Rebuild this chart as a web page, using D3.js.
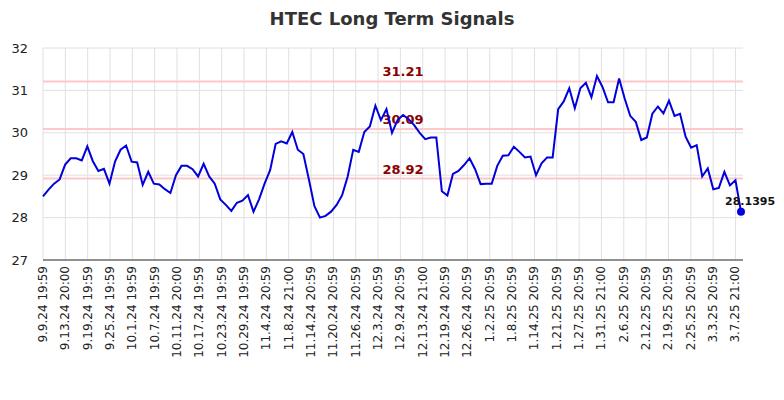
<!DOCTYPE html>
<html><head><meta charset="utf-8">
<script src="https://cdn.jsdelivr.net/npm/d3@7"></script>
<style>body{margin:0;background:#fff}svg{font-family:"DejaVu Sans",sans-serif}</style>
</head><body><svg id="c" width="784" height="400"></svg>
<script>
const values=[28.5,28.66,28.8,28.9,29.25,29.4,29.4,29.35,29.68,29.33,29.1,29.15,28.8,29.32,29.6,29.7,29.32,29.3,28.77,29.08,28.8,28.78,28.67,28.58,29.0,29.22,29.22,29.14,28.97,29.27,28.97,28.8,28.43,28.3,28.16,28.35,28.4,28.53,28.14,28.43,28.8,29.12,29.74,29.8,29.75,30.02,29.6,29.5,28.9,28.27,28.0,28.04,28.14,28.3,28.53,28.97,29.6,29.55,30.02,30.15,30.64,30.3,30.56,30.0,30.3,30.42,30.32,30.18,30.0,29.85,29.89,29.89,28.62,28.52,29.03,29.1,29.24,29.4,29.14,28.79,28.8,28.8,29.22,29.46,29.47,29.67,29.55,29.42,29.44,29.0,29.28,29.42,29.42,30.56,30.74,31.05,30.58,31.05,31.18,30.84,31.34,31.08,30.72,30.72,31.28,30.81,30.4,30.26,29.83,29.89,30.45,30.62,30.46,30.76,30.4,30.45,29.91,29.65,29.71,28.97,29.16,28.67,28.7,29.08,28.76,28.88,28.1395];
const tickLabels=["9.9.24 19:59","9.13.24 20:00","9.19.24 19:59","9.25.24 19:59","10.1.24 19:59","10.7.24 19:59","10.11.24 20:00","10.17.24 19:59","10.23.24 19:59","10.29.24 19:59","11.4.24 20:59","11.8.24 21:00","11.14.24 20:59","11.20.24 20:59","11.26.24 20:59","12.3.24 20:59","12.9.24 20:59","12.13.24 21:00","12.19.24 20:59","12.26.24 20:59","1.2.25 20:59","1.8.25 20:59","1.14.25 20:59","1.21.25 20:59","1.27.25 20:59","1.31.25 21:00","2.6.25 20:59","2.12.25 20:59","2.19.25 20:59","2.25.25 20:59","3.3.25 20:59","3.7.25 21:00"];
const levels=[31.21,30.09,28.92];
const yTicks=[27,28,29,30,31,32];
const svg=d3.select("#c");
const L=43,R=743,T=48,B=260;
const x=d3.scaleLinear().domain([0,values.length-1]).range([L,741]);
const y=d3.scaleLinear().domain([27,32]).range([B,T]);
const nT=tickLabels.length;
const tickIdx=tickLabels.map((d,k)=>k*(125/(nT-1)));
svg.append("text").attr("x",392).attr("y",25).attr("text-anchor","middle").attr("font-size",18).attr("font-weight","bold").attr("fill","#333").text("HTEC Long Term Signals");
const g=svg.append("g");
g.selectAll(".vg").data(tickIdx).join("line").attr("x1",d=>x(d)).attr("x2",d=>x(d)).attr("y1",T).attr("y2",B).attr("stroke","#e0e0e0");
g.selectAll(".hg").data(yTicks).join("line").attr("x1",L).attr("x2",R).attr("y1",d=>y(d)).attr("y2",d=>y(d)).attr("stroke","#e0e0e0");
g.selectAll(".lv").data(levels).join("line").attr("x1",L).attr("x2",R).attr("y1",d=>y(d)).attr("y2",d=>y(d)).attr("stroke","#ffc8c8").attr("stroke-width",2);
g.selectAll(".lt").data(levels).join("text").attr("x",403).attr("y",d=>y(d)-5).attr("text-anchor","middle").attr("font-size",13).attr("font-weight","bold").attr("fill","#8b0000").text(d=>d.toFixed(2));
g.append("line").attr("x1",L).attr("x2",R).attr("y1",B).attr("y2",B).attr("stroke","#333");
g.selectAll(".yl").data(yTicks).join("text").attr("x",28).attr("y",d=>y(d)+4.5).attr("text-anchor","end").attr("font-size",13).attr("fill","#222").text(d=>d);
g.selectAll(".xl").data(tickLabels).join("text").attr("transform",(d,i)=>`translate(${x(tickIdx[i])+4},266) rotate(-90)`).attr("text-anchor","end").attr("font-size",12).attr("fill","#222").text(d=>d);
g.append("path").datum(values).attr("fill","none").attr("stroke","#0000dd").attr("stroke-width",2).attr("d",d3.line().x((d,i)=>x(i)).y(d=>y(d)));
const li=values.length-1;
g.append("circle").attr("cx",x(li)).attr("cy",y(values[li])).attr("r",4).attr("fill","#0000dd");
g.append("text").attr("x",x(li)-16).attr("y",y(values[li])-7).attr("text-anchor","start").attr("font-size",11).attr("font-weight","bold").attr("fill","#111").text(values[li]);
</script></body></html>
